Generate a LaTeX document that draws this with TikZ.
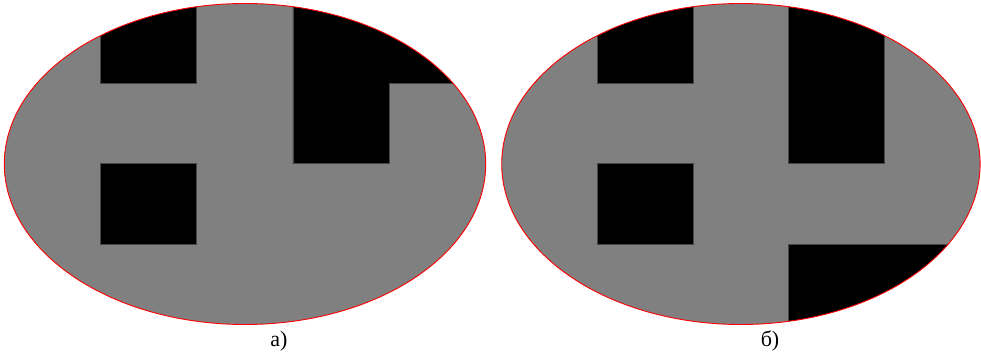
\documentclass[tikz,border=0pt]{standalone}
\usepackage{fontspec}
\setmainfont{Liberation Serif}
\begin{document}
\begin{tikzpicture}[x=1pt,y=-1pt,
  cellbox/.style={fill=black,draw=black!72,line width=0.7pt},
  oval/.style={draw=red,line width=0.9pt},
  body/.style={fill=gray50},
  lbl/.style={font=\fontsize{22}{26}\selectfont,inner sep=0pt}]
\definecolor{gray50}{RGB}{128,128,128}
\useasboundingbox (0,0) rectangle (981,352);
\fill[white] (0,0) rectangle (981,352);
% left figure
\begin{scope}
  \fill[body] (245,164) ellipse [x radius=240.7pt, y radius=160.5pt];
  \clip (245,164) ellipse [x radius=240.7pt, y radius=160.5pt];
  \draw[cellbox] (100.5,-5) rectangle (196.7,83.5);
  \draw[cellbox] (292.9,-5) -- (495,-5) -- (495,83.5) -- (389.1,83.5) -- (389.1,163.8) -- (292.9,163.8) -- cycle;
  \draw[cellbox] (100.5,163.8) rectangle (196.7,244);
\end{scope}
\draw[oval] (245,164) ellipse [x radius=240.7pt, y radius=160.5pt];
% right figure
\begin{scope}
  \fill[body] (740.9,164) ellipse [x radius=239.2pt, y radius=160.5pt];
  \clip (740.9,164) ellipse [x radius=239.2pt, y radius=160.5pt];
  \draw[cellbox] (597.4,-5) rectangle (693.1,83.5);
  \draw[cellbox] (788.8,-5) rectangle (884.5,163.8);
  \draw[cellbox] (597.4,163.8) rectangle (693.1,244);
  \draw[cellbox] (788.8,244) rectangle (990,335);
\end{scope}
\draw[oval] (740.9,164) ellipse [x radius=239.2pt, y radius=160.5pt];
\node[lbl] (la) at (279,341) {а)};
\node[lbl] (lb) at (770,341) {б)};
\end{tikzpicture}
\end{document}
